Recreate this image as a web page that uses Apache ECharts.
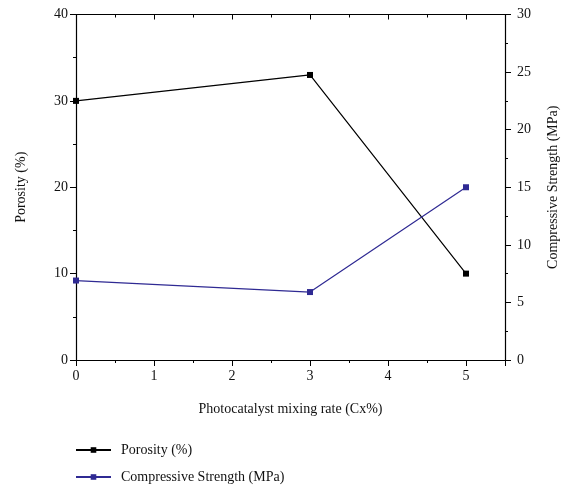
<!DOCTYPE html>
<html><head><meta charset="utf-8">
<script src="https://cdn.jsdelivr.net/npm/echarts@6/dist/echarts.min.js"></script>
<style>html,body{margin:0;padding:0;background:#fff}#c{width:564px;height:487px}</style>
</head><body><div id="c"></div>
<script>
const xValues = [0, 3, 5];
const porosity = [30, 33, 10];
const strength = [6.9, 5.9, 15];
const seriesNames = ['Porosity (%)', 'Compressive Strength (MPa)'];
const xTitle = 'Photocatalyst mixing rate (Cx%)';

const font = 'Liberation Serif';
const chart = echarts.init(document.getElementById('c'));
const mkLine = () => ({show: true, onZero: false, lineStyle: {color: '#000', width: 1.2}});
const tick = (inside, len) => ({show: true, inside: inside, length: len, lineStyle: {color: '#000'}});
const minor = (len) => ({show: true, splitNumber: 2, length: len, lineStyle: {color: '#000'}});
const nameStyle = () => ({fontFamily: font, fontSize: 14, color: '#111', fontWeight: 'normal'});
const labelStyle = (m) => ({fontFamily: font, fontSize: 14, color: '#111', margin: m});
const mkLegend = (name, top) => ({
  orient: 'horizontal', left: 75, top: top, padding: 0, itemWidth: 35, itemHeight: 7,
  textStyle: {fontFamily: font, fontSize: 14, color: '#111', padding: [0, 0, 0, 5]},
  data: [name]
});
chart.setOption({
  animation: false,
  textStyle: {fontFamily: font},
  grid: {left: 76, right: 59, top: 14.5, bottom: 127, containLabel: false, outerBoundsMode: 'none'},
  legend: [mkLegend(seriesNames[0], 443), mkLegend(seriesNames[1], 470)],
  xAxis: [{
    type: 'value', min: 0, max: 5.5, interval: 1, position: 'bottom',
    name: xTitle, nameLocation: 'middle', nameGap: 42,
    nameTextStyle: nameStyle(),
    axisLine: mkLine(), axisTick: tick(false, 6), minorTick: minor(3),
    axisLabel: Object.assign(labelStyle(9), {showMaxLabel: false}),
    splitLine: {show: false}
  }, {
    type: 'value', min: 0, max: 5.5, interval: 1, position: 'top',
    axisLine: mkLine(), axisTick: tick(true, 5), minorTick: minor(3),
    axisLabel: {show: false}, splitLine: {show: false}
  }],
  yAxis: [{
    type: 'value', min: 0, max: 40, interval: 10, position: 'left',
    name: seriesNames[0], nameLocation: 'middle', nameGap: 48, nameRotate: 90,
    nameTextStyle: nameStyle(),
    axisLine: mkLine(), axisTick: tick(false, 6), minorTick: minor(3),
    axisLabel: labelStyle(8), splitLine: {show: false}
  }, {
    type: 'value', min: 0, max: 30, interval: 5, position: 'right',
    name: seriesNames[1], nameLocation: 'middle', nameGap: 41, nameRotate: 90,
    nameTextStyle: nameStyle(),
    axisLine: mkLine(), axisTick: tick(false, 6), minorTick: minor(3),
    axisLabel: labelStyle(12), splitLine: {show: false}
  }],
  series: [{
    name: seriesNames[0], type: 'line', xAxisIndex: 0, yAxisIndex: 0,
    data: xValues.map((x, i) => [x, porosity[i]]),
    symbol: 'rect', symbolSize: 6,
    lineStyle: {color: '#000', width: 1.2}, itemStyle: {color: '#000'}
  }, {
    name: seriesNames[1], type: 'line', xAxisIndex: 0, yAxisIndex: 1,
    data: xValues.map((x, i) => [x, strength[i]]),
    symbol: 'rect', symbolSize: 6,
    lineStyle: {color: '#2f2a93', width: 1.2}, itemStyle: {color: '#2f2a93'}
  }]
});
</script></body></html>
